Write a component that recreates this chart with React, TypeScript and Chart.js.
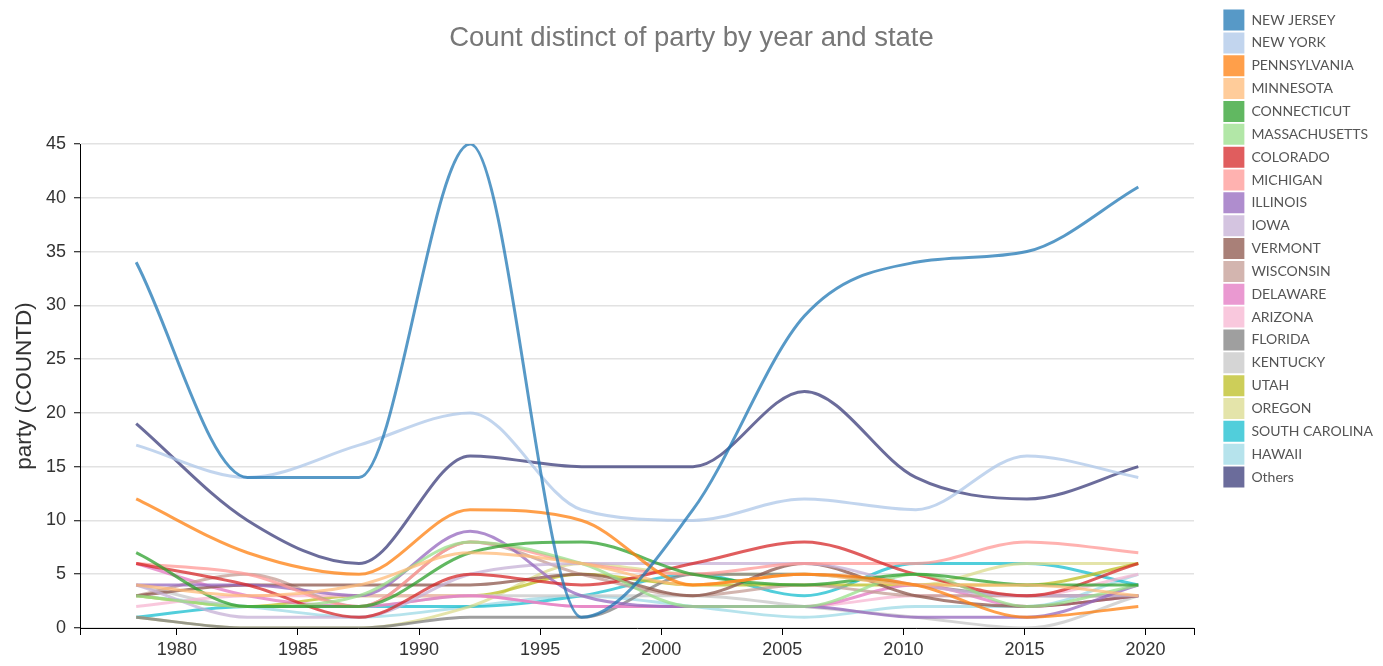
import React, { useEffect, useRef } from 'react';
import { Chart, registerables } from 'chart.js';

Chart.register(...registerables);

// x positions of the data points (years)
const years = [1978.32, 1982.92, 1987.52, 1992.11, 1996.71, 2001.31, 2005.91, 2010.51, 2015.1, 2019.7];
const xTicks = [1976, 1980, 1985, 1990, 1995, 2000, 2005, 2010, 2015, 2020, 2022];
const yTicks = [0, 5, 10, 15, 20, 25, 30, 35, 40, 45];

const states = [
  'NEW JERSEY', 'NEW YORK', 'PENNSYLVANIA', 'MINNESOTA', 'CONNECTICUT', 'MASSACHUSETTS',
  'COLORADO', 'MICHIGAN', 'ILLINOIS', 'IOWA', 'VERMONT', 'WISCONSIN', 'DELAWARE', 'ARIZONA',
  'FLORIDA', 'KENTUCKY', 'UTAH', 'OREGON', 'SOUTH CAROLINA', 'HAWAII', 'Others',
];

const colors = [
  '#1f77b4', '#aec7e8', '#ff7f0e', '#ffbb78', '#2ca02c', '#98df8a', '#d62728', '#ff9896',
  '#9467bd', '#c5b0d5', '#8c564b', '#c49c94', '#e377c2', '#f7b6d2', '#7f7f7f', '#c7c7c7',
  '#bcbd22', '#dbdb8d', '#17becf', '#9edae5', '#393b79',
];

const newJersey = [34, 14, 14, 45, 1, 11, 29, 34, 35, 41];
const newYork = [17, 14, 17, 20, 11, 10, 12, 11, 16, 14];
const pennsylvania = [12, 7, 5, 11, 10, 4, 5, 4, 1, 2];
const minnesota = [4, 3, 4, 7, 6, 4, 5, 4, 4, 3];
const connecticut = [7, 2, 2, 7, 8, 5, 4, 5, 4, 4];
const massachusetts = [3, 2, 3, 8, 6, 2, 2, 5, 2, 4];
const colorado = [6, 4, 1, 5, 4, 6, 8, 5, 3, 6];
const michigan = [6, 5, 2, 8, 6, 5, 6, 6, 8, 7];
const illinois = [4, 4, 3, 9, 3, 2, 2, 1, 1, 4];
const iowa = [4, 1, 1, 5, 6, 6, 6, 4, 3, 3];
const vermont = [3, 4, 4, 4, 5, 3, 6, 3, 2, 3];
const wisconsin = [3, 5, 2, 8, 5, 3, 4, 3, 3, 3];
const delaware = [6, 3, 2, 3, 2, 2, 2, 4, 2, 3];
const arizona = [2, 3, 3, 3, 2, 2, 2, 3, 3, 5];
const florida = [1, 0, 0, 1, 1, 5, 5, 4, 3, 3];
const kentucky = [4, 2, 2, 3, 3, 3, 2, 1, 0, 3];
const utah = [3, 2, 3, 3, 5, 4, 4, 4, 4, 6];
const oregon = [1, 0, 0, 2, 6, 5, 5, 4, 6, 6];
const southCarolina = [1, 2, 2, 2, 3, 5, 3, 6, 6, 4];
const hawaii = [3, 2, 1, 2, 3, 2, 1, 2, 2, 5];
const others = [19, 10, 6, 16, 15, 15, 22, 14, 12, 15];

const series = [
  newJersey, newYork, pennsylvania, minnesota, connecticut, massachusetts, colorado, michigan,
  illinois, iowa, vermont, wisconsin, delaware, arizona, florida, kentucky, utah, oregon,
  southCarolina, hawaii, others,
];

function withAlpha(hex: string, a: number) {
  const r = parseInt(hex.slice(1, 3), 16);
  const g = parseInt(hex.slice(3, 5), 16);
  const b = parseInt(hex.slice(5, 7), 16);
  return `rgba(${r},${g},${b},${a})`;
}

const W = 1383;
const H = 666;
const PLOT_LEFT = 80;
const PLOT_RIGHT = 1194;
const PLOT_TOP = 144;
const PLOT_BOTTOM = 628;
const TOP_PAD = 7.7;

export default function App() {
  const ref = useRef<HTMLCanvasElement | null>(null);

  useEffect(() => {
    if (!ref.current) return;
    const datasets = series.map((vals, i) => ({
      label: states[i],
      data: years.map((x, j) => ({ x, y: vals[j] })),
      borderColor: withAlpha(colors[i], 0.75),
      backgroundColor: withAlpha(colors[i], 0.75),
      borderWidth: 3,
      pointRadius: 0,
      pointHoverRadius: 0,
      cubicInterpolationMode: 'monotone' as const,
      fill: false,
      yAxisID: 'y',
    }));

    const titleSize = 27.5;
    const titleLH = titleSize * 1.2;
    const titleTopPad = 38 - titleLH / 2 - TOP_PAD;
    const titleBottomPad = PLOT_TOP - TOP_PAD - titleTopPad - titleLH;

    const chart = new Chart(ref.current, {
      type: 'line',
      data: { datasets },
      options: {
        animation: false,
        responsive: false,
        events: [],
        layout: { padding: { top: TOP_PAD, left: 0, right: 0, bottom: 0 } },
        plugins: {
          tooltip: { enabled: false },
          title: {
            display: true,
            text: 'Count distinct of party by year and state',
            color: '#777777',
            font: { family: "'Liberation Sans', Arial, sans-serif", size: titleSize, weight: 'normal' },
            padding: { top: titleTopPad, bottom: titleBottomPad },
          },
          legend: {
            display: true,
            position: 'right',
            align: 'start',
            labels: {
              boxWidth: 21,
              boxHeight: 21,
              padding: 1.85,
              color: '#555555',
              font: { family: "Lato, 'Open Sans', sans-serif", size: 14 },
              generateLabels: (c: any) => {
                const items = Chart.defaults.plugins.legend.labels.generateLabels(c);
                return items.map((it: any) => ({ ...it, lineWidth: 0 }));
              },
            },
          },
        },
        scales: {
          x: {
            type: 'linear',
            min: 1976,
            max: 2022,
            afterBuildTicks: (s: any) => {
              s.ticks = xTicks.map((v) => ({ value: v }));
            },
            afterFit: (s: any) => {
              s.height = H - PLOT_BOTTOM;
            },
            ticks: {
              autoSkip: false,
              maxRotation: 0,
              minRotation: 0,
              padding: 4,
              color: '#333333',
              font: { family: "'Liberation Sans', Arial, sans-serif", size: 18 },
              callback: (v: any) => (v === 1976 || v === 2022 ? '' : String(v)),
            },
            grid: {
              display: true,
              drawOnChartArea: false,
              drawTicks: true,
              tickLength: 7,
              tickColor: '#000000',
            },
            border: { display: true, color: '#000000', width: 1 },
          },
          y: {
            type: 'linear',
            position: 'left',
            min: 0,
            max: 45,
            afterBuildTicks: (s: any) => {
              s.ticks = yTicks.map((v) => ({ value: v }));
            },
            afterFit: (s: any) => {
              s.width = PLOT_LEFT;
            },
            ticks: {
              padding: 8,
              color: '#333333',
              font: { family: "'Liberation Sans', Arial, sans-serif", size: 18 },
            },
            grid: {
              display: true,
              drawOnChartArea: true,
              drawTicks: true,
              tickLength: 6,
              color: '#e2e2e2',
              lineWidth: 1.5,
              tickColor: '#000000',
              tickWidth: 1,
            },
            border: { display: true, color: '#000000', width: 1 },
            title: {
              display: true,
              text: 'party (COUNTD)',
              color: '#333333',
              font: { family: "'Liberation Sans', Arial, sans-serif", size: 22.5 },
              padding: { top: 11.5, bottom: 0 },
            },
          },
          gap: {
            type: 'linear',
            position: 'right',
            display: true,
            min: 0,
            max: 1,
            ticks: { display: false },
            grid: { display: false, drawTicks: false },
            border: { display: false },
            afterFit: (s: any) => {
              const lg = s.chart.legend;
              s.width = Math.max(0, W - PLOT_RIGHT - (lg ? lg.width : 0));
            },
          },
        },
      },
    } as any);

    return () => chart.destroy();
  }, []);

  return (
    <div style={{ position: 'absolute', left: 0, top: 0, width: W, height: H, background: '#ffffff' }}>
      <canvas ref={ref} width={W} height={H} style={{ display: 'block', width: W, height: H }} />
    </div>
  );
}
